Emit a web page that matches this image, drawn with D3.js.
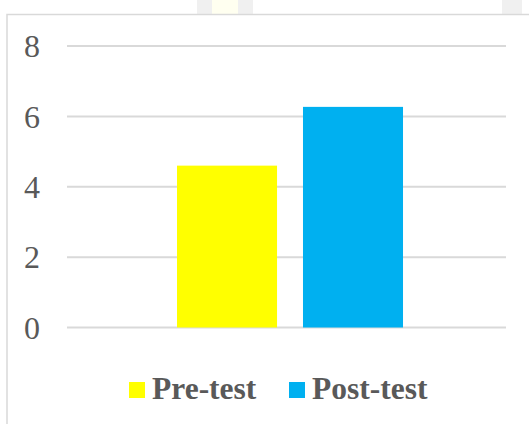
<!DOCTYPE html>
<html>
<head>
<meta charset="utf-8">
<script src="https://cdn.jsdelivr.net/npm/d3@7"></script>
<style>
  body { margin: 0; background: #fff; }
  svg { display: block; }
</style>
</head>
<body>
<svg id="chart" width="529" height="424"></svg>
<script>
// data
const series = ['Pre-test', 'Post-test'];
const values = [4.6, 6.27];
const colors = ['#ffff00', '#00b0f0'];
const yTicks = [0, 2, 4, 6, 8];

const svg = d3.select('#chart');
const width = +svg.attr('width');
const height = +svg.attr('height');

const plot = { left: 67, right: 506, top: 46, bottom: 327.5 };

// bits of the page behind the chart, above its frame
svg.append('rect').attr('x', 197).attr('y', 0).attr('width', 56).attr('height', 14).attr('fill', '#f0f0f0');
svg.append('rect').attr('x', 212).attr('y', 0).attr('width', 26).attr('height', 14).attr('fill', '#fffff0');
svg.append('rect').attr('x', 502).attr('y', 0).attr('width', 20).attr('height', 14).attr('fill', '#f0f0f0');

// chart frame (left and top edges are what shows)
svg.append('rect')
  .attr('x', 7).attr('y', 14.5)
  .attr('width', width + 10).attr('height', height + 10)
  .attr('fill', '#fff')
  .attr('stroke', '#d9d9d9')
  .attr('stroke-width', 1.5);

const y = d3.scaleLinear().domain([0, 8]).range([plot.bottom, plot.top]);

const plotW = plot.right - plot.left;
const x = d3.scaleBand()
  .domain(series)
  .range([plot.left + plotW * 0.2506, plot.left + plotW * 0.7654])
  .paddingInner(0.206)
  .paddingOuter(0);

// gridlines
svg.append('g')
  .selectAll('line')
  .data(yTicks)
  .join('line')
  .attr('x1', plot.left).attr('x2', plot.right)
  .attr('y1', d => y(d)).attr('y2', d => y(d))
  .attr('stroke', '#d9d9d9')
  .attr('stroke-width', 2);

// y labels
svg.append('g')
  .selectAll('text')
  .data(yTicks)
  .join('text')
  .attr('x', 40)
  .attr('y', d => y(d))
  .attr('dy', '0.35em')
  .attr('text-anchor', 'end')
  .attr('font-family', '"Liberation Serif", "Times New Roman", serif')
  .attr('font-size', 32)
  .attr('fill', '#595959')
  .text(d => d);

// bars
svg.append('g')
  .selectAll('rect')
  .data(series)
  .join('rect')
  .attr('x', d => x(d))
  .attr('width', x.bandwidth())
  .attr('y', (d, i) => y(values[i]))
  .attr('height', (d, i) => y(0) - y(values[i]))
  .attr('fill', (d, i) => colors[i]);

// legend
const legendX = [129, 289];
const legend = svg.append('g')
  .selectAll('g')
  .data(series)
  .join('g')
  .attr('transform', (d, i) => `translate(${legendX[i]},382)`);

legend.append('rect')
  .attr('width', 16).attr('height', 16)
  .attr('fill', (d, i) => colors[i]);

legend.append('text')
  .attr('x', 23)
  .attr('y', 17)
  .attr('font-family', '"Liberation Serif", "Times New Roman", serif')
  .attr('font-weight', 'bold')
  .attr('font-size', 31.5)
  .attr('fill', '#595959')
  .text(d => d);
</script>
</body>
</html>
